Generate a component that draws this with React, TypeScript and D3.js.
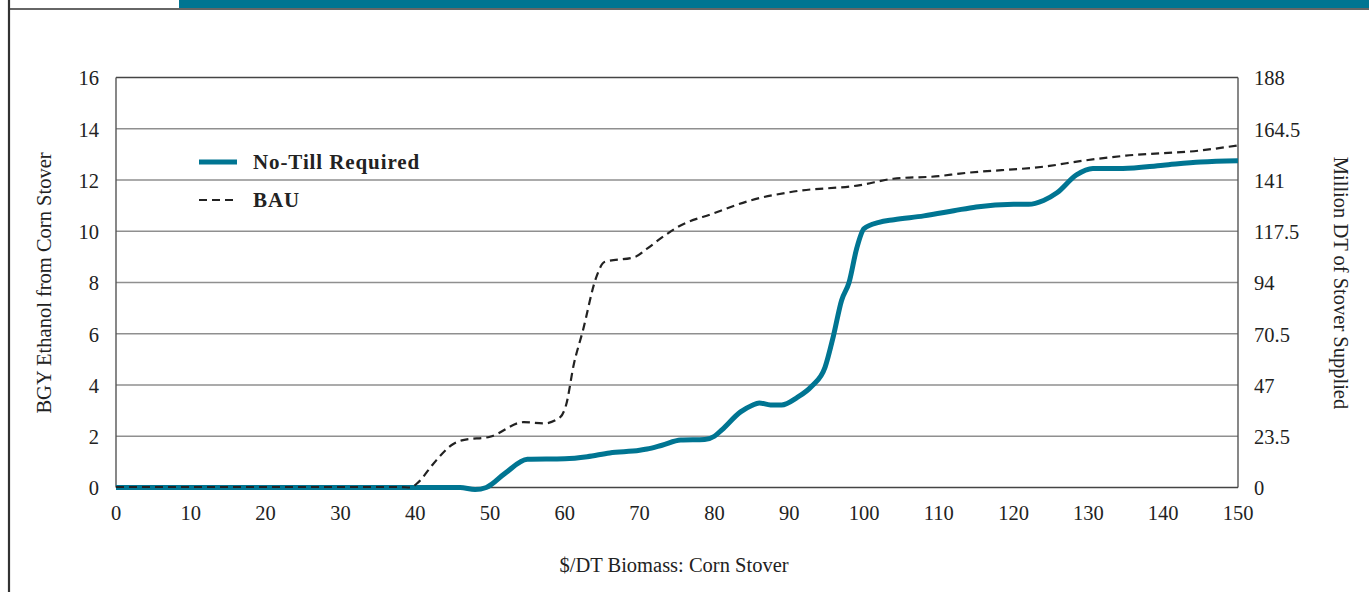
import React from "react";
import * as d3 from "d3";

const W = 1369;
const H = 592;

// Price ($/DT) vs BGY ethanol
const noTillX = [0, 10, 20, 30, 40, 46, 48, 49.5, 52, 55, 60, 63, 66, 70, 71, 73, 75.5, 78.7, 80, 81, 83.5, 85, 86, 87.5, 89, 91, 93, 94.8, 95.9, 97, 98, 99, 100, 102, 104, 108, 112, 115, 120, 122, 124, 125.8, 128.4, 130.6, 134.6, 140, 145, 150];
const noTillY = [0, 0, 0, 0, 0, 0, -0.08, 0, 0.55, 1.1, 1.12, 1.2, 1.35, 1.45, 1.5, 1.65, 1.85, 1.87, 2.0, 2.25, 2.95, 3.2, 3.3, 3.22, 3.22, 3.5, 3.95, 4.7, 5.9, 7.3, 8.0, 9.3, 10.1, 10.35, 10.45, 10.6, 10.8, 10.95, 11.05, 11.05, 11.2, 11.5, 12.2, 12.45, 12.45, 12.58, 12.7, 12.75];

const bauX = [0, 10, 20, 30, 38, 39.3, 40.4, 42.4, 45.1, 46.4, 50, 54.5, 57.2, 59.4, 60.2, 61.2, 62.4, 64.2, 65.3, 69.4, 70.9, 73.2, 75, 79.9, 84.8, 90.6, 99.5, 103.9, 110, 112.8, 124.8, 129.2, 135, 144.9, 150];
const bauY = [0.02, 0.02, 0.02, 0.02, 0.02, 0, 0.2, 0.92, 1.7, 1.85, 1.98, 2.55, 2.5, 2.75, 3.25, 4.8, 6.1, 8.2, 8.8, 9.0, 9.3, 9.8, 10.15, 10.7, 11.2, 11.55, 11.8, 12.05, 12.15, 12.25, 12.55, 12.75, 12.95, 13.15, 13.35];

const xTicks = [0, 10, 20, 30, 40, 50, 60, 70, 80, 90, 100, 110, 120, 130, 140, 150];
const yTicks = [0, 2, 4, 6, 8, 10, 12, 14, 16];
const yRightTicks = [0, 23.5, 47, 70.5, 94, 117.5, 141, 164.5, 188];
const yRightLabels = ["0", "23.5", "47", "70.5", "94", "117.5", "141", "164.5", "188"];

const seriesNames = ["No-Till Required", "BAU"];

const TEAL = "#007592";
const FONT = "'Liberation Serif', 'Times New Roman', serif";

export default function App() {
  const left = 116;
  const right = 1238;
  const top = 77.5;
  const bottom = 487.5;

  const x = d3.scaleLinear().domain([0, 150]).range([left, right]);
  const y = d3.scaleLinear().domain([0, 16]).range([bottom, top]);
  const yR = d3.scaleLinear().domain([0, 188]).range([bottom, top]);

  const line = d3
    .line<[number, number]>()
    .x((d) => x(d[0]))
    .y((d) => y(d[1]))
    .curve(d3.curveMonotoneX);

  const noTill = noTillX.map((v, i) => [v, noTillY[i]] as [number, number]);
  const bau = bauX.map((v, i) => [v, bauY[i]] as [number, number]);

  return (
    <svg
      width={W}
      height={H}
      style={{ position: "absolute", left: 0, top: 0, background: "#fff" }}
      fontFamily={FONT}
    >
      {/* page decorations */}
      <rect x={179} y={0} width={W - 179} height={8} fill={TEAL} />
      <line x1={9} x2={W} y1={9} y2={9} stroke="#333" strokeWidth={1.5} />
      <line x1={9} x2={9} y1={0} y2={H} stroke="#333" strokeWidth={2.2} />

      {/* gridlines */}
      {yTicks.slice(1, -1).map((t) => (
        <line key={t} x1={left} x2={right} y1={y(t)} y2={y(t)} stroke="#8f8f8f" strokeWidth={1.3} />
      ))}
      {/* frame */}
      <line x1={left} x2={right} y1={y(16)} y2={y(16)} stroke="#444" strokeWidth={1.3} />
      <line x1={left} x2={left} y1={y(16)} y2={bottom} stroke="#555" strokeWidth={1.4} />
      <line x1={right} x2={right} y1={y(16)} y2={bottom} stroke="#555" strokeWidth={1.4} />
      <line x1={left} x2={right} y1={bottom} y2={bottom} stroke="#444" strokeWidth={1.6} />

      {/* series */}
      <path d={line(noTill) || ""} fill="none" stroke={TEAL} strokeWidth={5} strokeLinejoin="round" />
      <path d={line(bau) || ""} fill="none" stroke="#222" strokeWidth={2.2} strokeDasharray="8,5" />

      {/* left ticks */}
      {yTicks.map((t) => (
        <text key={t} x={99} y={y(t)} dy="0.38em" textAnchor="end" fontSize={20.5} fill="#222">
          {t}
        </text>
      ))}
      {/* right ticks */}
      {yRightTicks.map((t, i) => (
        <text key={t} x={1254} y={yR(t)} dy="0.38em" textAnchor="start" fontSize={20.5} fill="#222">
          {yRightLabels[i]}
        </text>
      ))}
      {/* x ticks */}
      {xTicks.map((t) => (
        <text key={t} x={x(t)} y={513} dy="0.35em" textAnchor="middle" fontSize={20.5} fill="#222">
          {t}
        </text>
      ))}

      {/* axis titles */}
      <text x={674} y={565} dy="0.35em" textAnchor="middle" fontSize={20.5} fill="#222">
        $/DT Biomass: Corn Stover
      </text>
      <text
        transform={`translate(44,283) rotate(-90)`}
        dy="0.35em"
        textAnchor="middle"
        fontSize={20.5}
        fill="#222"
      >
        BGY Ethanol from Corn Stover
      </text>
      <text
        transform={`translate(1341,283) rotate(90)`}
        dy="0.35em"
        textAnchor="middle"
        fontSize={20.5}
        fill="#222"
      >
        Million DT of Stover Supplied
      </text>

      {/* legend */}
      <line x1={199} x2={237} y1={162} y2={162} stroke={TEAL} strokeWidth={5} />
      <text x={253} y={162} dy="0.35em" fontSize={21} fontWeight="bold" letterSpacing={0.9} fill="#222">
        {seriesNames[0]}
      </text>
      <line x1={199} x2={237} y1={200} y2={200} stroke="#222" strokeWidth={2.2} strokeDasharray="8,5" />
      <text x={253} y={200} dy="0.35em" fontSize={21} fontWeight="bold" letterSpacing={0.9} fill="#222">
        {seriesNames[1]}
      </text>
    </svg>
  );
}
